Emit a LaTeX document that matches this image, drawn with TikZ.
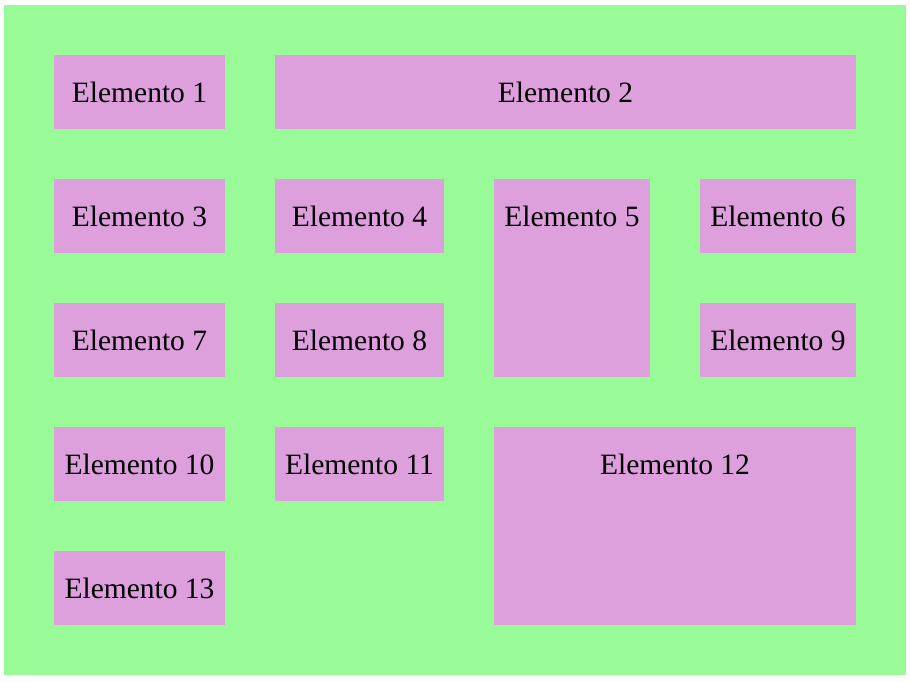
\documentclass[tikz,border=0pt]{standalone}
\usepackage{fontspec}
\setmainfont{Liberation Serif}
\definecolor{fondo}{HTML}{98FB98}
\definecolor{caja}{HTML}{DDA0DD}
\tikzset{elem/.style={fill=caja,inner sep=0pt,font=\fontsize{29.5}{34}\selectfont}}

\begin{document}
\begin{tikzpicture}[x=1pt,y=-1pt]
\useasboundingbox (0,0) rectangle (910,681);
\fill[white] (0,0) rectangle (910,681);
\fill[fondo] (4,5) rectangle (906,675);
% fila 1
\fill[caja] (54,55) rectangle (225,129);
\node[elem] (a) at (139.5,92) {Elemento 1};
\fill[caja] (275,55) rectangle (856,129);
\node[elem] (b) at (565.5,92) {Elemento 2};
% fila 2
\fill[caja] (54,179) rectangle (225,253);
\node[elem] (c) at (139.5,216) {Elemento 3};
\fill[caja] (275,179) rectangle (444,253);
\node[elem] (d) at (359.5,216) {Elemento 4};
\fill[caja] (494,179) rectangle (650,377);
\node[elem] (e) at (572,216) {Elemento 5};
\fill[caja] (700,179) rectangle (856,253);
\node[elem] (f) at (778,216) {Elemento 6};
% fila 3
\fill[caja] (54,303) rectangle (225,377);
\node[elem] (g) at (139.5,340) {Elemento 7};
\fill[caja] (275,303) rectangle (444,377);
\node[elem] (h) at (359.5,340) {Elemento 8};
\fill[caja] (700,303) rectangle (856,377);
\node[elem] (i) at (778,340) {Elemento 9};
% fila 4
\fill[caja] (54,427) rectangle (225,501);
\node[elem] (j) at (139.5,464) {Elemento 10};
\fill[caja] (275,427) rectangle (444,501);
\node[elem] (k) at (359.5,464) {Elemento 11};
\fill[caja] (494,427) rectangle (856,625);
\node[elem] (l) at (675,464) {Elemento 12};
% fila 5
\fill[caja] (54,551) rectangle (225,625);
\node[elem] (m) at (139.5,588) {Elemento 13};
\end{tikzpicture}
\end{document}
